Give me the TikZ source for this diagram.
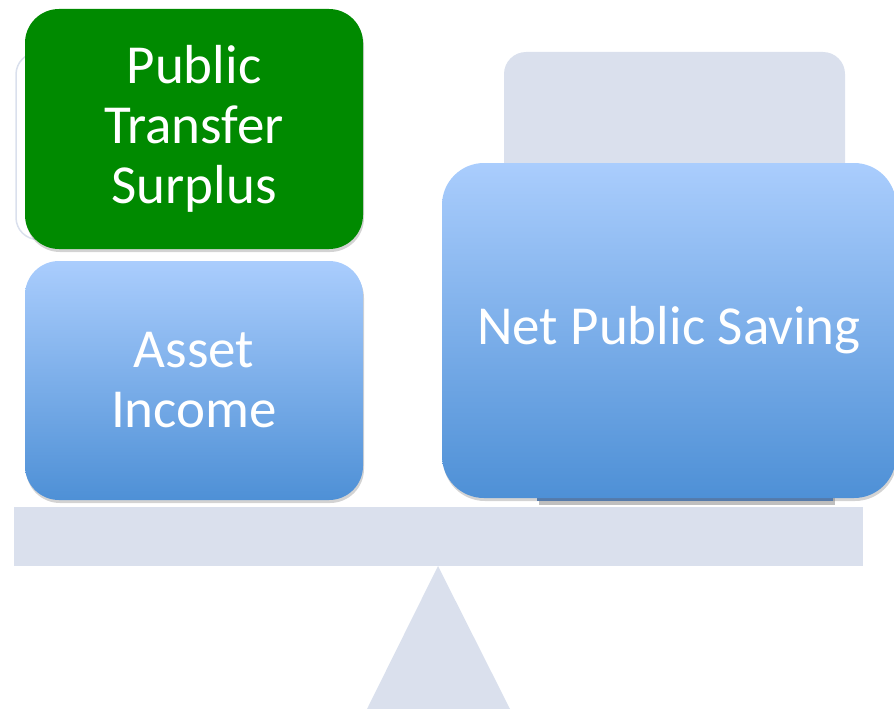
\documentclass[tikz,border=0pt]{standalone}
\usepackage{fontspec}
\setmainfont{Carlito}
\usepackage{tikz}
\usetikzlibrary{shapes,positioning,calc,shadows}
\definecolor{beamgray}{RGB}{218,224,237}
\definecolor{surplusgreen}{RGB}{0,138,0}
\definecolor{boxtop}{RGB}{170,205,253}
\definecolor{boxbottom}{RGB}{78,144,214}
\definecolor{boxdark}{RGB}{62,120,192}

\begin{document}
\begin{tikzpicture}[x=1pt,y=-1pt]
    % Stili
    \tikzset{
        block/.style={rectangle, rounded corners=34pt, text=white, align=center, font=\fontsize{55}{60}\selectfont, inner sep=0pt},
        bluebox/.style={block, top color=boxtop, bottom color=boxbottom, drop shadow={shadow xshift=1pt, shadow yshift=-3pt, opacity=0.35}},
        greenbox/.style={block, fill=surplusgreen, drop shadow={shadow xshift=1pt, shadow yshift=-3pt, opacity=0.35}},
        backbox/.style={rectangle, rounded corners=22pt, fill=beamgray},
        scale part/.style={fill=beamgray}
    }
    \useasboundingbox (0,0) rectangle (894,709);

    % Bilancia
    \node[scale part, minimum width=849pt, minimum height=59pt, inner sep=0pt] (beam) at (438.5,536.5) {};
    \fill[scale part] (438,566) -- (510,709) -- (367,709) -- cycle;

    % Piatto sinistro
    \node[rectangle, rounded corners=22pt, draw=beamgray, line width=1.5pt, fill=white, minimum width=320pt, minimum height=187pt] (leftback) at (176,146) {};
    \node[greenbox, minimum width=338pt, minimum height=240pt] (surplus) at (194,129) {Public\\Transfer\\Surplus};
    \node[bluebox, minimum width=338pt, minimum height=239pt] (asset) at (194,380.5) {Asset\\Income};

    % Piatto destro
    \node[backbox, minimum width=341pt, minimum height=150pt] (rightback) at (674.5,127) {};
    \node[rectangle, fill=boxdark, minimum width=296pt, minimum height=34pt, inner sep=0pt, drop shadow={shadow yshift=-4pt, opacity=0.5}] (rightbase) at (685,484) {};
    \node[bluebox, rounded corners=42pt, minimum width=454pt, minimum height=335pt] (saving) at (669,330.5) {Net Public Saving};
\end{tikzpicture}
\end{document}
